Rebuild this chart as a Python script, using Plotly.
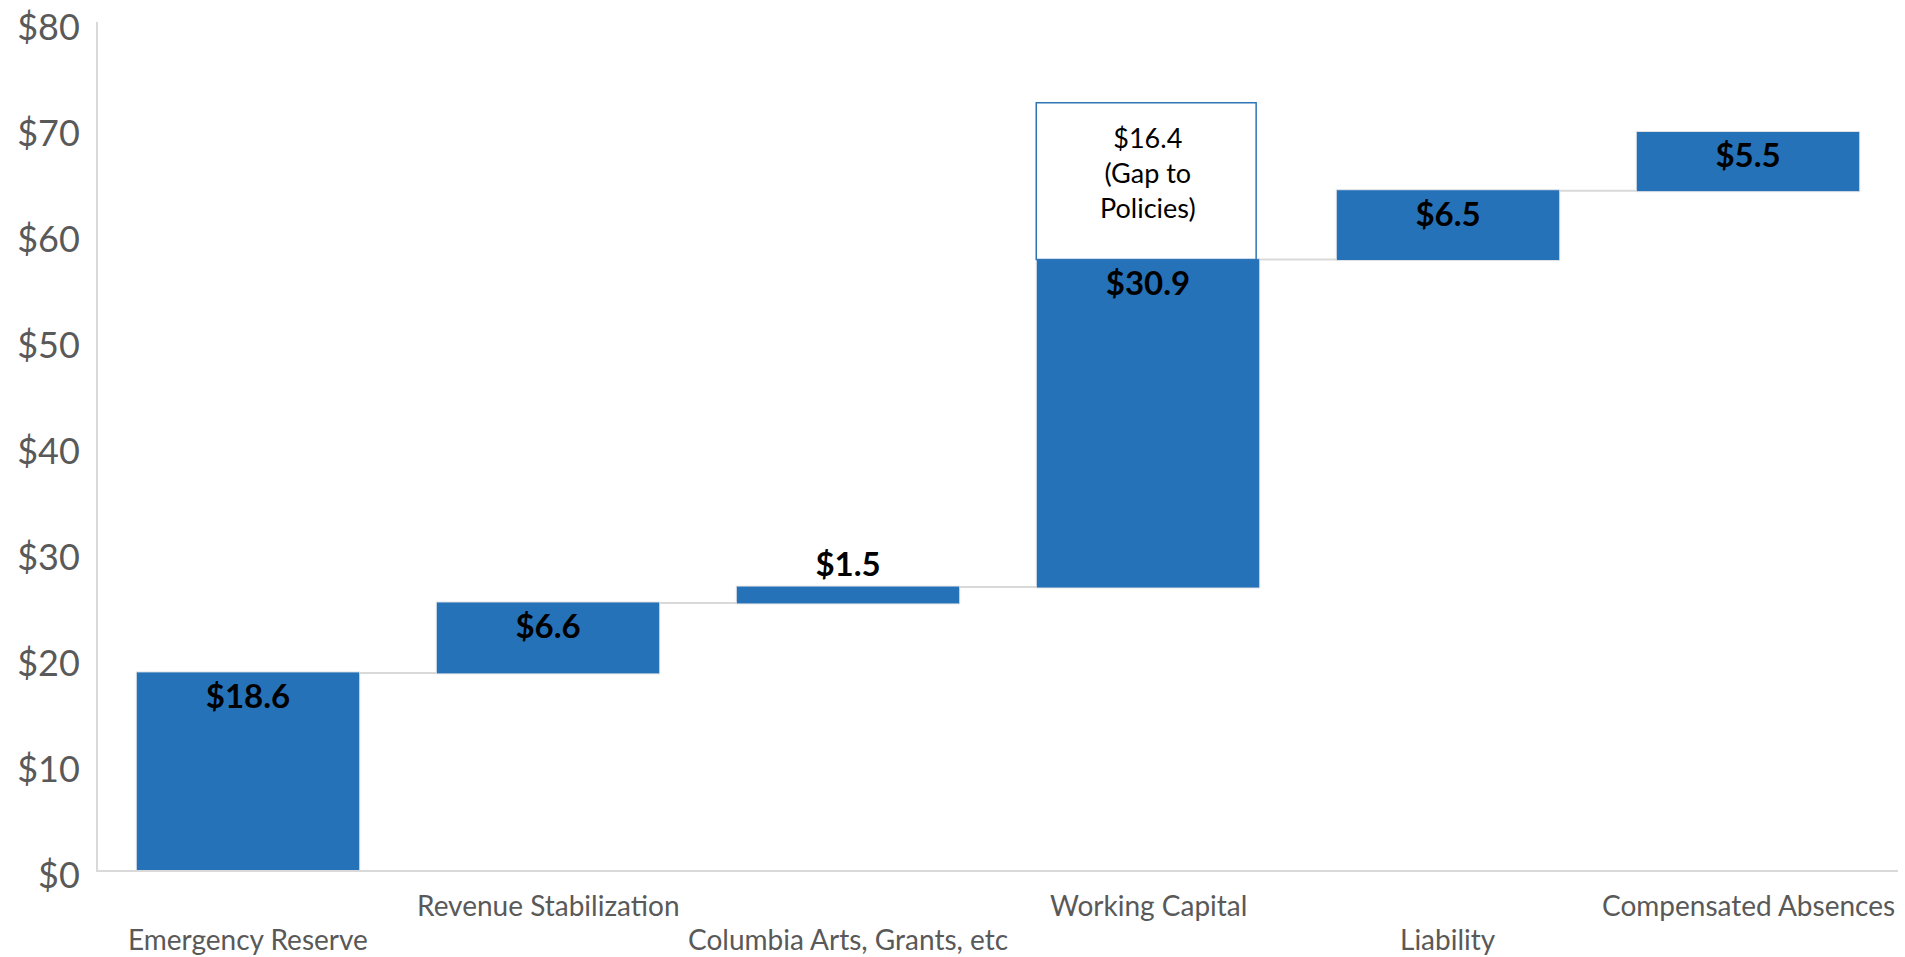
import plotly.graph_objects as go

categories = ["Emergency Reserve", "Revenue Stabilization", "Columbia Arts, Grants, etc",
              "Working Capital", "Liability", "Compensated Absences"]
values = [18.6, 6.6, 1.5, 30.9, 6.5, 5.5]
label_positions = ["inside", "inside", "outside", "inside", "inside", "inside"]
gap_value = 16.4
gap_category = "Working Capital"
gap_box_top = 72.4          # visible top of the "gap" box
y_ticks = [0, 10, 20, 30, 40, 50, 60, 70, 80]

BLUE = "#2672B9"
GRAY = "#595959"
LIGHT = "#D9D9D9"
FONT = "Lato"

fig = go.Figure()
fig.add_trace(go.Waterfall(
    x=categories,
    y=values,
    measure=["relative"] * len(values),
    text=[f"${v:.1f}" for v in values],
    textposition=label_positions,
    insidetextanchor="end",
    textfont=dict(family=FONT, size=33, color="black", weight="bold"),
    outsidetextfont=dict(family=FONT, size=33, color="black", weight="bold"),
    increasing=dict(marker=dict(color=BLUE, line=dict(color="#E6E6E6", width=1))),
    connector=dict(line=dict(color=LIGHT, width=2), mode="between"),
    cliponaxis=False,
    showlegend=False,
    hoverinfo="skip",
))

# gap-to-policies box sitting on top of the Working Capital bar
gi = categories.index(gap_category)
gap_base = sum(values[:gi + 1])
half = 0.3725
fig.add_shape(type="rect", xref="x", yref="y",
              x0=gi - half, x1=gi + half - 0.012, y0=gap_base, y1=gap_box_top,
              fillcolor="white", line=dict(color="#2E75B6", width=1.5), layer="above")
fig.add_annotation(x=gi, y=(gap_base + gap_box_top) / 2, xref="x", yref="y",
                   text=f"${gap_value:.1f}<br>(Gap to<br>Policies)", showarrow=False,
                   yshift=9, font=dict(family=FONT, size=27, color="black"))

# staggered category labels
for i, c in enumerate(categories):
    y = -0.0413 if i % 2 == 1 else -0.0814
    fig.add_annotation(x=i, y=y, xref="x", yref="paper", text=c, showarrow=False,
                       yanchor="middle", font=dict(family=FONT, size=28, color=GRAY))

fig.update_layout(
    width=1905, height=957,
    margin=dict(l=98, r=7, t=22, b=87),
    paper_bgcolor="white", plot_bgcolor="white",
    waterfallgap=0.255,
    font=dict(family=FONT),
)
fig.update_xaxes(showticklabels=False, showgrid=False, showline=True, linecolor=LIGHT,
                 linewidth=2, zeroline=False, ticks="")
fig.update_yaxes(range=[0, 80.02], tickvals=y_ticks, ticktext=[f"${t}" for t in y_ticks],
                 showgrid=False, zeroline=False, showline=True, linecolor=LIGHT, linewidth=2,
                 ticks="", ticklabelstandoff=9, ticklabelshift=5, automargin=False,
                 ticklabeloverflow="allow",
                 tickfont=dict(family=FONT, size=36, color=GRAY))

fig.write_html("out.html")
